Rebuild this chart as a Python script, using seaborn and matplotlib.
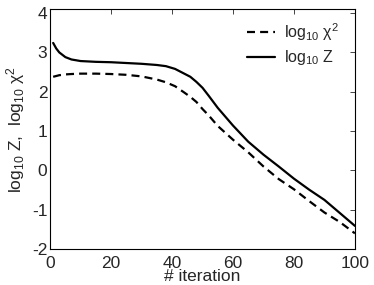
import numpy as np
import pandas as pd
import matplotlib
matplotlib.use("Agg")
import matplotlib.pyplot as plt
import seaborn as sns

# ---------------- data ----------------
iters = [1, 2, 3, 5, 7, 10, 15, 20, 25, 30, 35, 38, 41, 44, 46, 48, 50, 52,
         55, 60, 65, 70, 75, 80, 85, 90, 95, 100]
log_z = [3.24, 3.10, 3.00, 2.88, 2.82, 2.78, 2.76, 2.75, 2.73, 2.71, 2.68, 2.65,
         2.58, 2.46, 2.38, 2.25, 2.10, 1.90, 1.59, 1.14, 0.73, 0.40, 0.10,
         -0.21, -0.49, -0.75, -1.08, -1.41]
log_chi2 = [2.38, 2.40, 2.42, 2.44, 2.45, 2.46, 2.46, 2.45, 2.43, 2.39, 2.31, 2.24,
            2.14, 1.98, 1.87, 1.74, 1.56, 1.40, 1.13, 0.78, 0.46, 0.10, -0.22,
            -0.48, -0.78, -1.07, -1.31, -1.60]

xticks = [0, 20, 40, 60, 80, 100]
yticks = [-2, -1, 0, 1, 2, 3, 4]

df = pd.DataFrame({"iter": iters, "chi2": log_chi2, "z": log_z})

sns.set_style("white")
plt.rcParams["font.family"] = ["Liberation Sans", "DejaVu Sans"]
plt.rcParams["mathtext.fontset"] = "custom"
plt.rcParams["mathtext.rm"] = "Liberation Sans"
plt.rcParams["mathtext.it"] = "Liberation Sans"

fig = plt.figure(figsize=(3.74, 2.85), dpi=100)
ax = fig.add_axes([0.134, 0.126, 0.815, 0.842])

sns.lineplot(data=df, x="iter", y="chi2", ax=ax, color="black", lw=1.6,
             label=r"log$_{10}$ $\mathrm{\chi}^2$")
sns.lineplot(data=df, x="iter", y="z", ax=ax, color="black", lw=1.6,
             label=r"log$_{10}$ Z")
ax.lines[0].set_dashes((3.6, 2.3))

ax.set_xlim(0, 100)
ax.set_ylim(-2, 4.1)
ax.set_xticks(xticks)
ax.set_yticks(yticks)
ax.set_xticklabels([str(t) for t in xticks])
ax.set_yticklabels([str(t) for t in yticks])
ax.tick_params(direction="in", length=3.5, width=0.6, labelsize=12.5,
               top=True, right=True)
ax.tick_params(axis="x", pad=5)
ax.tick_params(axis="y", pad=2)
for s in ax.spines.values():
    s.set_linewidth(0.8)
    s.set_color("black")

ax.set_xlabel("# iteration", fontsize=12.5)
ax.xaxis.set_label_coords(0.5, -0.085)
ax.set_ylabel(r"log$_{10}$ Z,  log$_{10}$ $\mathrm{\chi}^2$", fontsize=12.5)
ax.yaxis.set_label_coords(-0.076, 0.5)

leg = ax.legend(frameon=False, loc="upper right", bbox_to_anchor=(0.995, 1.01),
                fontsize=11.5, handlelength=1.75, handletextpad=0.55,
                labelspacing=0.35)
for h in leg.get_lines():
    h.set_linewidth(1.6)
leg.get_lines()[0].set_dashes((3.6, 2.3))

fig.savefig("out.png", dpi=100)
